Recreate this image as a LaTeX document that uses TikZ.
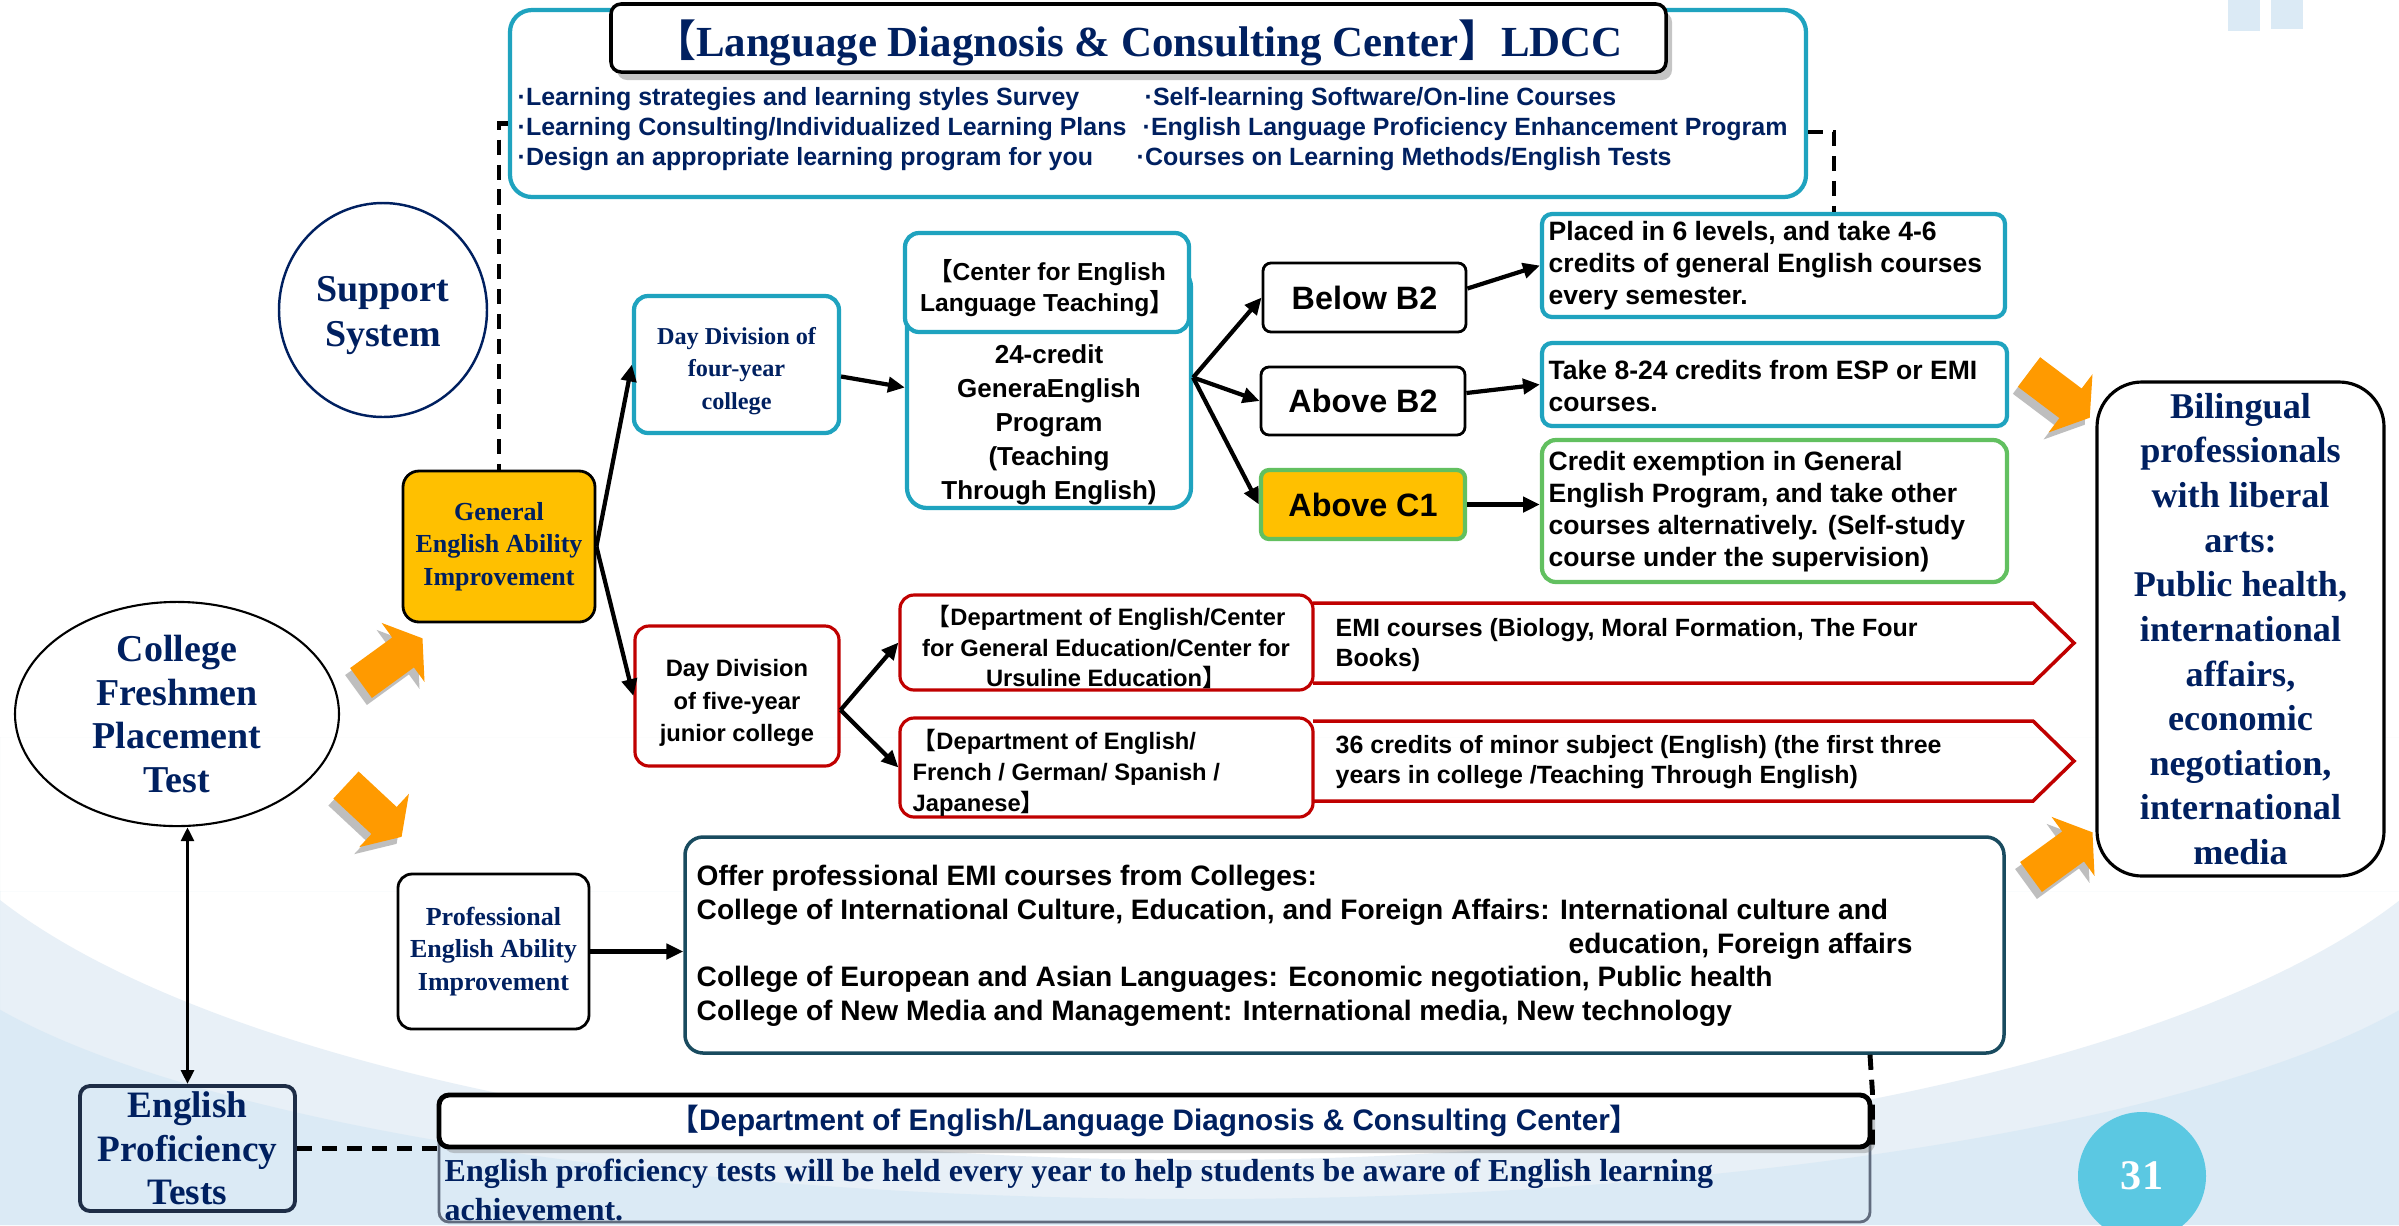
\documentclass[tikz,border=0pt]{standalone}
\usepackage{fontspec}
\setmainfont{Liberation Serif}
\newfontfamily\arialf{Liberation Sans}
\newfontfamily\cjk{Noto Sans CJK SC}
\usetikzlibrary{arrows.meta,shadows,shapes.geometric}

\definecolor{navy}{RGB}{0,32,96}
\definecolor{tealb}{RGB}{31,163,191}
\definecolor{greenb}{RGB}{98,192,96}
\definecolor{redb}{RGB}{192,0,0}
\definecolor{goldf}{RGB}{255,192,0}
\definecolor{orangef}{RGB}{255,154,0}
\definecolor{shadowg}{RGB}{190,190,190}
\definecolor{bglight}{RGB}{232,240,247}
\definecolor{bgdark}{RGB}{219,234,245}
\definecolor{pagec}{RGB}{91,200,226}
\definecolor{darkteal}{RGB}{25,75,95}
\definecolor{slateb}{RGB}{30,45,70}

\newcommand\fsz[2]{\fontsize{#1}{#2}\selectfont}
\newcommand\lbk{{\cjk 【}}
\newcommand\rbk{{\cjk 】}}

% block arrow pointing along +x, tail centre at the origin
\newcommand\arrowpath{(0,-18.5) -- (52,-18.5) -- (52,-36.5) -- (76,0) -- (52,36.5) -- (52,18.5) -- (0,18.5) -- cycle}
\newcommand\orarrow[3]{%
  \begin{scope}[shift={(#1-5,#2+7)}, rotate=#3]\fill[shadowg] \arrowpath;\end{scope}
  \begin{scope}[shift={(#1,#2)}, rotate=#3]\fill[orangef] \arrowpath;\end{scope}}

\tikzset{
  corners/.style n args={4}{at={({(#1+#3)/2},{(#2+#4)/2})},
     minimum width={(#3-#1)*0.1mm}, minimum height={(#4-#2)*0.1mm}},
  box/.style={draw, inner sep=0pt, line width=0.8pt},
  tealbox/.style={box, draw=tealb, line width=1.2pt, rounded corners=1.4mm},
  redbox/.style={box, draw=redb, line width=0.9pt, rounded corners=1.4mm},
  lvlbox/.style={box, rounded corners=0.8mm, font=\arialf\fsz{9.2}{11}\bfseries},
  serifnavy/.style={align=center, text=navy},
  plain/.style={inner sep=0pt},
  bul/.style={inner sep=0pt, anchor=west, font=\arialf\fsz{7.1}{8}\bfseries, text=navy},
  txtsix/.style={inner sep=0pt, anchor=west, align=left, font=\arialf\fsz{7.55}{9.1}\bfseries},
  conn/.style={line width=1.2pt, -{Triangle[length=4.8pt,width=4.3pt]}},
  dblconn/.style={line width=1pt, {Triangle[length=4pt,width=3.6pt]}-{Triangle[length=4pt,width=3.6pt]}},
  dashln/.style={line width=1.4pt, dash pattern=on 4.3pt off 2.8pt},
}

\begin{document}
\begin{tikzpicture}[x=0.1mm, y=-0.1mm]
\useasboundingbox (0,0) rectangle (2399,1225);

% background bands
\fill[white] (0,0) rectangle (2399,1225);
\begin{scope}
  \clip (0,737) rectangle (2399,1225);
  \fill[bglight, even odd rule] (0,737) rectangle (2399,1225)
    (1200,737) ellipse [x radius=13cm, y radius=4.23cm];
\end{scope}
\begin{scope}
  \clip (0,891) rectangle (2399,1225);
  \fill[bgdark, even odd rule] (0,891) rectangle (2399,1225)
    (1200,891) ellipse [x radius=13cm, y radius=3.08cm];
\end{scope}
\fill[bgdark] (2228,0) rectangle (2260,31);
\fill[bgdark] (2271,0) rectangle (2303,29);

% page number
\node[circle, fill=pagec, minimum size=1.28cm, inner sep=0pt,
      font=\fsz{12}{14}\bfseries, text=white] (page) at (2142,1176) {31};

% LDCC block
\node[tealbox, rounded corners=2.2mm, corners={510}{10}{1806}{197}] (ldcc) {};
\node[box, line width=1pt, fill=white, rounded corners=1mm, corners={611}{4}{1666}{72},
      drop shadow={shadow xshift=0.6mm, shadow yshift=-0.8mm, fill=gray, opacity=0.45}] (ldcctitle) {};
\node[plain, font=\fsz{12.2}{14}\bfseries, text=navy] (ldcctitletxt) at (1138,43)
      {\lbk Language Diagnosis \& Consulting Center\rbk LDCC};
\node[bul] (b1) at (517,99) {·Learning strategies and learning styles Survey};
\node[bul] (b2) at (517,129) {·Learning Consulting/Individualized Learning Plans};
\node[bul] (b3) at (517,159) {·Design an appropriate learning program for you};
\node[bul] (b4) at (1144,99) {·Self-learning Software/On-line Courses};
\node[bul] (b5) at (1142,129) {·English Language Proficiency Enhancement Program};
\node[bul] (b6) at (1136,159) {·Courses on Learning Methods/English Tests};

% left column
\node[ellipse, draw=navy, line width=0.7pt, minimum width=2.08cm, minimum height=2.14cm,
      inner sep=0pt] (support) at (383,310) {};
\node[plain, serifnavy, font=\fsz{10.8}{12.8}\bfseries] (supporttxt) at (383,316) {Support\\System};
\node[box, fill=goldf, rounded corners=1.6mm, corners={403}{471}{595}{622}, serifnavy,
      font=\fsz{7.4}{9.3}\bfseries] (gen) {General\\English Ability\\Improvement};
\node[ellipse, draw=black, line width=0.6pt, minimum width=3.24cm, minimum height=2.02cm,
      inner sep=0pt, serifnavy, font=\fsz{10.8}{12.5}\bfseries] (college) at (177,714)
      {College\\Freshmen\\Placement\\Test};
\node[box, draw=slateb, line width=1.1pt, rounded corners=1mm, corners={80}{1086}{295}{1211},
      serifnavy, font=\fsz{10.6}{12.4}\bfseries] (ept) {English\\Proficiency\\Tests};
\node[box, fill=white, rounded corners=1.4mm, corners={398}{874}{589}{1029}, serifnavy,
      font=\fsz{7.4}{9.3}\bfseries] (prof) {Professional\\English Ability\\Improvement};

% four-year college branch
\node[tealbox, corners={634}{296}{839}{433}] (day4) {};
\node[plain, serifnavy, font=\fsz{6.9}{9.3}\bfseries] (day4txt) at (736.5,371)
      {Day Division of\\four-year\\college};
\node[tealbox, rounded corners=2mm, corners={907}{267}{1191}{508}] (cprog) {};
\node[plain, align=center, font=\arialf\fsz{7.4}{9.7}\bfseries] (cprogtxt) at (1049,425)
      {24-credit\\GeneraEnglish\\Program\\(Teaching\\Through English)};
\node[tealbox, fill=white, corners={905}{233}{1189}{332}] (ctop) {};
\node[plain, align=center, font=\arialf\fsz{7.0}{8.8}\bfseries] (ctoptxt) at (1047,288)
      {\lbk Center for English\\Language Teaching\rbk};

\node[lvlbox, corners={1263}{263}{1466}{332}] (below) {Below B2};
\node[lvlbox, corners={1261}{367}{1465}{435}] (aboveb) {Above B2};
\node[lvlbox, draw=greenb, line width=1.2pt, fill=goldf, corners={1261}{470}{1465}{539}] (abovec) {Above C1};

\node[tealbox, rounded corners=1mm, corners={1542}{214}{2005}{317}] (placed) {};
\node[txtsix] (placedtxt) at (1548,266)
      {Placed in 6 levels, and take 4-6\\credits of general English courses\\every semester.};
\node[tealbox, rounded corners=1mm, corners={1542}{343}{2007}{426}] (take) {};
\node[txtsix] (taketxt) at (1548,386) {Take 8-24 credits from ESP or EMI\\courses.};
\node[tealbox, draw=greenb, rounded corners=1.4mm, corners={1542}{440}{2007}{582}] (credit) {};
\node[txtsix] (credittxt) at (1548,511.5)
      {Credit exemption in General\\English Program, and take other\\courses alternatively. (Self-study\\course under the supervision)};

% five-year junior college branch
\node[redbox, corners={635}{626}{839}{766}] (day5) {};
\node[plain, align=center, font=\arialf\fsz{6.75}{9.2}\bfseries] (day5txt) at (737,703)
      {Day Division\\of five-year\\junior college};
\draw[redb, line width=1pt] (1313,603) -- (2033,603) -- (2074,643) -- (2033,683) -- (1313,683);
\draw[redb, line width=1pt] (1313,721) -- (2033,721) -- (2074,761) -- (2033,801) -- (1313,801);
\node[plain, anchor=west, align=left, font=\arialf\fsz{7.1}{8.6}\bfseries] (pentatxt) at (1335,645)
      {EMI courses (Biology, Moral Formation, The Four\\Books)};
\node[plain, anchor=west, align=left, font=\arialf\fsz{7.1}{8.6}\bfseries] (pentbtxt) at (1335,762)
      {36 credits of minor subject (English) (the first three\\years in college /Teaching Through English)};
\node[redbox, fill=white, corners={900}{595}{1313}{690}] (depta) {};
\node[plain, align=center, font=\arialf\fsz{6.75}{8.8}\bfseries] (deptatxt) at (1106,647)
      {\lbk Department of English/Center\\for General Education/Center for\\Ursuline Education\rbk};
\node[redbox, fill=white, corners={900}{718}{1313}{817}] (deptb) {};
\node[plain, anchor=west, align=left, font=\arialf\fsz{6.75}{8.8}\bfseries] (deptbtxt) at (912,773)
      {\lbk Department of English/\\French / German/ Spanish /\\Japanese\rbk};

% professional courses
\node[box, draw=darkteal, line width=1pt, fill=white, rounded corners=1.8mm,
      corners={685}{837}{2004}{1053}] (emi) {};
\node[plain, anchor=west, align=left, font=\arialf\fsz{8.0}{9.6}\bfseries] (emitxt) at (696,946)
      {Offer professional EMI courses from Colleges:\\
       College of International Culture, Education, and Foreign Affairs: International culture and\\
       \hspace*{8.72cm}education, Foreign affairs\\
       College of European and Asian Languages: Economic negotiation, Public health\\
       College of New Media and Management: International media, New technology};

% proficiency test block
\node[draw=slateb!70, line width=0.8pt, inner sep=0pt, rounded corners=1mm,
      corners={439}{1130}{1870}{1222}] (hdrbody) {};
\node[box, line width=1.4pt, fill=white, rounded corners=1mm, corners={439}{1095}{1870}{1147},
      drop shadow={shadow xshift=0.5mm, shadow yshift=-0.6mm, fill=gray, opacity=0.4},
      font=\arialf\fsz{8.45}{10}\bfseries, text=navy] (hdr)
      {\lbk Department of English/Language Diagnosis \& Consulting Center\rbk};
\node[plain, anchor=north west, align=left, font=\fsz{9.1}{11.1}\bfseries, text=navy]
      (hdrtxt) at (444,1158)
      {English proficiency tests will be held every year to help students be aware of English learning\\achievement.};

% outcome
\node[box, line width=0.9pt, fill=white, rounded corners=4.5mm, corners={2097}{382}{2384}{876},
      serifnavy, font=\fsz{10.3}{12.7}\bfseries] (bil)
      {Bilingual\\professionals\\with liberal\\arts:\\Public health,\\international\\affairs,\\economic\\negotiation,\\international\\media};

% orange block arrows
\orarrow{361}{683}{36}
\orarrow{346}{785}{-43}
\orarrow{2029}{372}{-37}
\orarrow{2031}{877}{36}

% connectors
\draw[conn] (gen.east) -- (day4.west);
\draw[conn] (gen.east) -- (day5.west);
\draw[conn] ([yshift=-1.2mm]day4.east) -- (cprog.west);
\draw[conn] ([yshift=1mm]cprog.east) -- (below.west);
\draw[conn] ([yshift=1mm]cprog.east) -- (aboveb.west);
\draw[conn] ([yshift=1mm]cprog.east) -- (abovec.west);
\draw[conn] ([yshift=0.9mm]below.east) -- (placed.west);
\draw[conn] ([yshift=0.8mm]aboveb.east) -- (take.west);
\draw[conn] (abovec.east) -- (abovec.east -| credit.west);
\draw[conn] ([yshift=-1.4mm]day5.east) -- (depta.west);
\draw[conn] ([yshift=-1.4mm]day5.east) -- (deptb.west);
\draw[conn] (prof.east) -- (prof.east -| emi.west);
\draw[dblconn] (ept.north) -- (ept.north |- college.south);

% dashed support links
\draw[dashln] ([yshift=-2mm]ldcc.west) -| (gen.north);
\draw[dashln] ([yshift=-2.85mm]ldcc.east) -| ([xshift=6.05mm]placed.north);
\draw[dashln] ([xshift=52.55mm]emi.south) -- (hdr.north east) -- (hdr.south east);
\draw[dashln] (ept.east) -- (ept.east -| hdr.west);
\end{tikzpicture}
\end{document}
